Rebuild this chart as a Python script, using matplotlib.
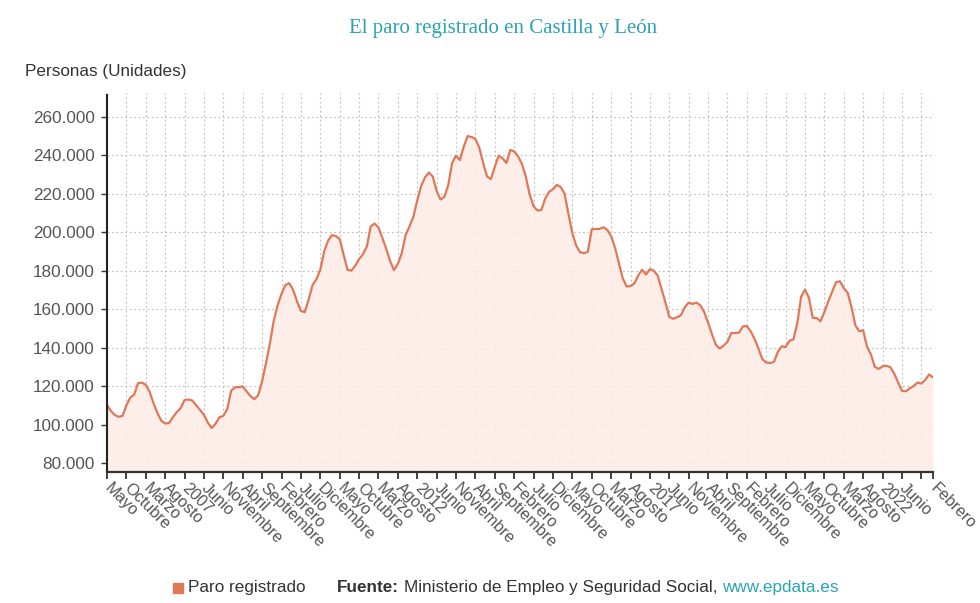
import matplotlib
matplotlib.use("Agg")
import matplotlib.pyplot as plt
from matplotlib.ticker import FuncFormatter

plt.rcParams['font.family'] = ['Liberation Sans', 'DejaVu Sans']

# paro registrado, mensual desde mayo 2005 hasta febrero 2023 (miles)
paro = [
    110.2, 107.0, 105.0, 104.0, 104.5, 110.0, 114.0, 115.5,
    121.5, 121.8, 120.6, 117.0, 111.0, 106.0, 102.0, 100.5, 100.8, 103.8, 106.5, 108.5,
    112.8, 113.0, 112.5, 110.0, 107.5, 105.0, 101.0, 98.2, 100.5, 103.8, 104.5, 108.0,
    117.5, 119.3, 119.5, 119.8, 117.2, 114.8, 113.2, 115.3, 122.5, 132.0, 142.0, 154.0,
    162.0, 168.0, 172.5, 173.5, 170.0, 164.0, 159.0, 158.5, 165.0, 172.5, 175.5, 180.5,
    190.0, 195.5, 198.5, 198.0, 196.5, 188.5, 180.5, 180.0, 182.5, 186.0, 188.5, 192.5,
    203.0, 204.5, 202.5, 197.0, 191.5, 185.0, 180.3, 183.5, 189.0, 198.5, 203.0, 208.0,
    216.5, 224.0, 228.5, 231.0, 229.0, 221.5, 217.0, 218.5, 224.5, 236.0, 239.8, 237.5,
    244.5, 250.0, 249.5, 248.5, 244.0, 236.0, 229.0, 227.6, 234.0, 239.8, 238.5, 236.0,
    242.8, 242.0, 239.5, 235.5, 229.0, 219.5, 213.5, 211.3, 211.5, 217.5, 221.0, 222.4,
    224.6, 223.5, 220.0, 209.5, 199.5, 193.0, 189.6, 189.1, 189.8, 201.5, 201.7, 201.7,
    202.6, 201.2, 198.0, 192.0, 184.0, 176.0, 171.8, 172.0, 173.4, 177.5, 180.5, 178.0,
    180.8, 180.0, 177.5, 170.5, 163.5, 156.0, 155.0, 155.8, 156.8, 161.0, 163.4, 162.7,
    163.4, 162.0, 158.5, 153.0, 147.0, 141.5, 139.5, 141.0, 143.0, 147.6, 147.6, 147.8,
    151.0, 151.2, 148.5, 144.5, 139.5, 134.0, 132.2, 132.0, 132.6, 137.8, 140.7, 140.3,
    143.6, 144.2, 152.5, 166.5, 170.2, 166.0, 155.5, 155.4, 153.7, 158.5, 164.0, 169.0,
    174.0, 174.5, 171.0, 168.5, 161.0, 151.5, 148.5, 149.0, 140.5, 136.5, 130.0, 128.9,
    130.3, 130.6, 129.8, 126.5, 122.0, 117.5, 117.3, 118.8, 120.0, 121.8, 121.3, 123.2,
    126.0, 124.5,
]
paro = [v * 1000 for v in paro]

tick_pos = list(range(0, 211, 5)) + [213]
tick_labels = [
    'Mayo', 'Octubre', 'Marzo', 'Agosto', '2007', 'Junio', 'Noviembre', 'Abril',
    'Septiembre', 'Febrero', 'Julio', 'Diciembre', 'Mayo', 'Octubre', 'Marzo',
    'Agosto', '2012', 'Junio', 'Noviembre', 'Abril', 'Septiembre', 'Febrero',
    'Julio', 'Diciembre', 'Mayo', 'Octubre', 'Marzo', 'Agosto', '2017', 'Junio',
    'Noviembre', 'Abril', 'Septiembre', 'Febrero', 'Julio', 'Diciembre', 'Mayo',
    'Octubre', 'Marzo', 'Agosto', '2022', 'Junio', '', 'Febrero',
]
y_ticks = [80000, 100000, 120000, 140000, 160000, 180000, 200000, 220000, 240000, 260000]

line_col = '#e07858'
teal = '#2ba3b5'
fs = 12.3

fig = plt.figure(figsize=(9.8, 6.03), dpi=100)
ax = fig.add_axes([0.1092, 0.2172, 0.8428, 0.6286])

x = list(range(len(paro)))
ax.fill_between(x, paro, 0, color='#fdece6', alpha=0.85, lw=0)
ax.plot(x, paro, color=line_col, lw=1.6)

ax.set_xlim(0, len(paro) - 1)
ax.set_ylim(75300, 272400)

ax.set_yticks(y_ticks)
ax.yaxis.set_major_formatter(FuncFormatter(lambda v, p: f'{int(v):,}'.replace(',', '.')))
ax.set_xticks(tick_pos)
ax.set_xticklabels(tick_labels, rotation=-45, ha='left', va='center',
                   rotation_mode='anchor')

ax.grid(True, color='#bbbbbb', lw=0.8, linestyle=(0, (1.5, 2.5)))
ax.set_axisbelow(True)
for s in ['top', 'right']:
    ax.spines[s].set_visible(False)
ax.spines['left'].set_linestyle((0, (1, 1)))
ax.spines['left'].set_color('#222222')
ax.spines['left'].set_linewidth(1.5)
ax.spines['bottom'].set_color('#333333')
ax.spines['bottom'].set_linewidth(1.6)
ax.tick_params(axis='x', length=5, width=1.3, color='#333333',
               labelsize=11.7, labelcolor='#555555', pad=5)
ax.tick_params(axis='y', length=4, width=1, color='#333333',
               labelsize=fs, labelcolor='#555555', pad=5)

fig.text(0.513, 0.953, 'El paro registrado en Castilla y León', ha='center',
         va='center', fontsize=15, color=teal, family='Liberation Serif')
fig.text(0.025, 0.882, 'Personas (Unidades)', ha='left', va='center',
         fontsize=fs, color='#333333')

# leyenda y fuente
fig.patches.append(plt.Rectangle((0.1765, 0.0165), 0.0105, 0.017,
                                 transform=fig.transFigure, color=line_col))
fig.text(0.192, 0.025, 'Paro registrado', ha='left', va='center',
         fontsize=fs, color='#333333')
t1 = fig.text(0.344, 0.025, 'Fuente:', ha='left', va='center',
              fontsize=fs, color='#333333', weight='bold')
fig.canvas.draw()
bb = t1.get_window_extent().transformed(fig.transFigure.inverted())
t2 = fig.text(bb.x1 + 0.005, 0.025, 'Ministerio de Empleo y Seguridad Social,',
              ha='left', va='center', fontsize=fs, color='#333333')
bb2 = t2.get_window_extent().transformed(fig.transFigure.inverted())
fig.text(bb2.x1 + 0.005, 0.025, 'www.epdata.es', ha='left', va='center',
         fontsize=fs, color=teal)

fig.savefig('out.png', dpi=100)
